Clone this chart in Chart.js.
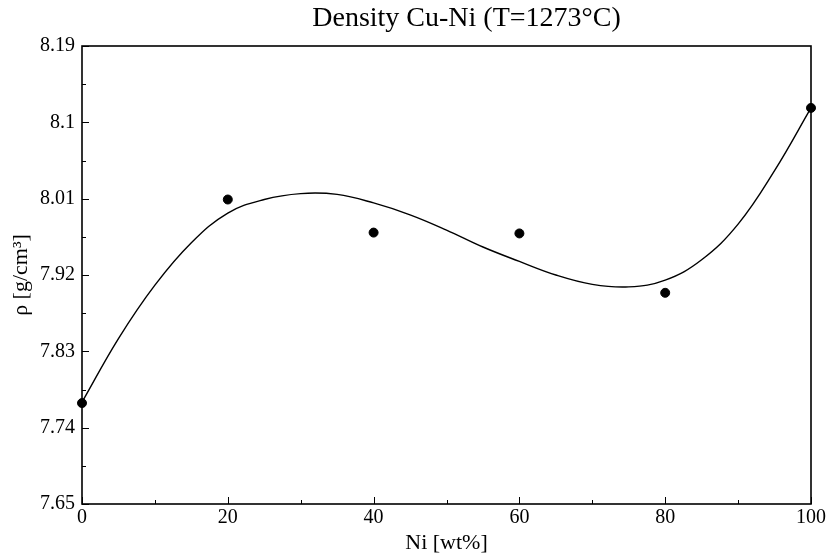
<!DOCTYPE html>
<html>
<head>
<meta charset="utf-8">
<script src="https://cdn.jsdelivr.net/npm/chart.js@4"></script>
<style>
  html, body { margin: 0; padding: 0; background: #fff; }
  #wrap { width: 828px; height: 556px; }
</style>
</head>
<body>
<div id="wrap"><canvas id="densityChart"></canvas></div>
<script>
// measured points
const niWt = [0, 20, 40, 60, 80, 100];
const density = [7.769, 8.009, 7.970, 7.969, 7.899, 8.117];

// fitted curve, every 5 wt%
const fitNi = [0, 5, 10, 15, 20, 25, 30, 35, 40, 45, 50, 55, 60, 65, 70, 75, 80, 85, 90, 95, 100];
const fitDensity = [7.770, 7.845, 7.908, 7.958, 7.993, 8.009, 8.016, 8.015, 8.005, 7.991, 7.973,
                    7.953, 7.936, 7.920, 7.909, 7.906, 7.914, 7.938, 7.980, 8.043, 8.117];

// axis ticks
const xTicks = [0, 20, 40, 60, 80, 100];
const xMinor = [10, 30, 50, 70, 90];
const yTicks = [7.65, 7.74, 7.83, 7.92, 8.01, 8.1, 8.19];
const yMinor = [7.695, 7.785, 7.875, 7.965, 8.055, 8.145];

const titleText = 'Density Cu-Ni (T=1273°C)';
const serif = "'Liberation Serif', 'DejaVu Serif', serif";

// inward ticks, frame and the title (sits a bit right of centre in the original)
const framePlugin = {
  id: 'frame',
  afterDraw(chart) {
    const { ctx, chartArea: a, scales } = chart;
    ctx.save();
    ctx.strokeStyle = '#000';
    ctx.lineWidth = 1;
    ctx.beginPath();
    xTicks.forEach(v => {
      const px = Math.round(scales.x.getPixelForValue(v)) + 0.5;
      ctx.moveTo(px, a.bottom); ctx.lineTo(px, a.bottom - 7);
    });
    xMinor.forEach(v => {
      const px = Math.round(scales.x.getPixelForValue(v)) + 0.5;
      ctx.moveTo(px, a.bottom); ctx.lineTo(px, a.bottom - 4);
    });
    yTicks.forEach(v => {
      const py = Math.round(scales.y.getPixelForValue(v)) + 0.5;
      ctx.moveTo(a.left, py); ctx.lineTo(a.left + 7, py);
    });
    yMinor.forEach(v => {
      const py = Math.round(scales.y.getPixelForValue(v)) + 0.5;
      ctx.moveTo(a.left, py); ctx.lineTo(a.left + 4, py);
    });
    ctx.stroke();
    ctx.lineWidth = 1.6;
    ctx.strokeRect(a.left, a.top, a.right - a.left, a.bottom - a.top);

    ctx.fillStyle = '#000';
    ctx.font = '28px ' + serif;
    ctx.textAlign = 'center';
    ctx.textBaseline = 'middle';
    ctx.fillText(titleText, (a.left + a.right) / 2 + 20, 19);
    ctx.restore();
  }
};

new Chart(document.getElementById('densityChart').getContext('2d'), {
  data: {
    datasets: [
      {
        type: 'line',
        label: 'fit',
        data: fitNi.map((x, i) => ({ x: x, y: fitDensity[i] })),
        borderColor: '#000',
        borderWidth: 1.4,
        pointRadius: 0,
        tension: 0.4,
        fill: false,
        clip: false
      },
      {
        type: 'scatter',
        label: 'measured',
        data: niWt.map((x, i) => ({ x: x, y: density[i] })),
        backgroundColor: '#000',
        borderColor: '#000',
        pointRadius: 4.5,
        clip: false
      }
    ]
  },
  options: {
    responsive: true,
    maintainAspectRatio: false,
    animation: false,
    layout: { padding: { left: 0, right: 17, top: 46, bottom: 0 } },
    plugins: {
      legend: { display: false },
      tooltip: { enabled: false },
      title: { display: false }
    },
    scales: {
      x: {
        type: 'linear',
        min: 0,
        max: 100,
        afterBuildTicks: axis => { axis.ticks = xTicks.map(v => ({ value: v })); },
        afterFit: axis => { axis.height = 52; },
        grid: { display: false, drawTicks: false },
        border: { display: false },
        ticks: {
          color: '#000',
          padding: 2,
          maxRotation: 0,
          font: { family: serif, size: 20 }
        },
        title: {
          display: true,
          text: 'Ni [wt%]',
          color: '#000',
          font: { family: serif, size: 22 },
          padding: { top: 0, bottom: 0 }
        }
      },
      y: {
        type: 'linear',
        min: 7.65,
        max: 8.19,
        afterBuildTicks: axis => { axis.ticks = yTicks.map(v => ({ value: v })); },
        afterFit: axis => { axis.width = 82; },
        grid: { display: false, drawTicks: false },
        border: { display: false },
        ticks: {
          color: '#000',
          padding: 7,
          font: { family: serif, size: 20 },
          callback: v => String(v)
        },
        title: {
          display: true,
          text: 'ρ [g/cm³]',
          color: '#000',
          font: { family: serif, size: 22 },
          padding: { top: 8, bottom: 0 }
        }
      }
    }
  },
  plugins: [framePlugin]
});
</script>
</body>
</html>
